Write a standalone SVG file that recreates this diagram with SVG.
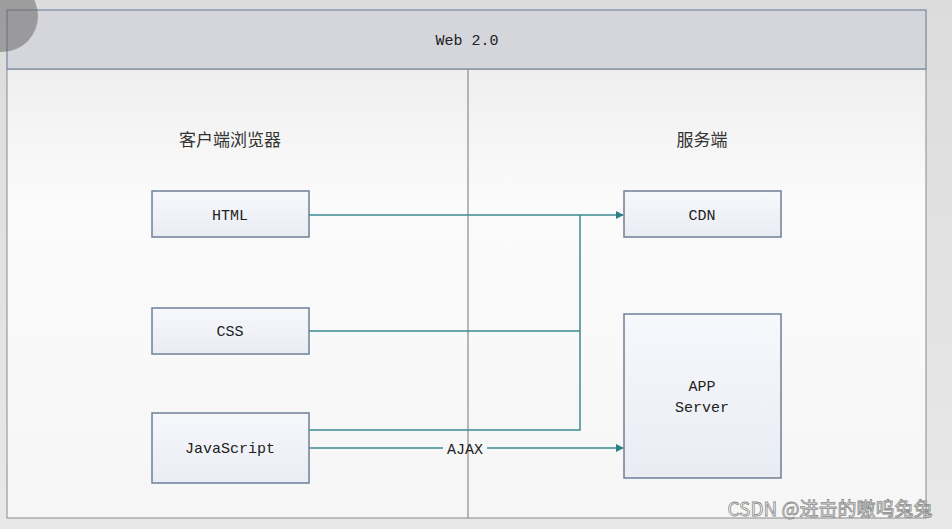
<svg xmlns="http://www.w3.org/2000/svg" width="952" height="529" viewBox="0 0 952 529">
<defs>
<linearGradient id="bg" x1="0" y1="0" x2="0" y2="1"><stop offset="0" stop-color="#dcdcdc"/><stop offset="1" stop-color="#e8e8e8"/></linearGradient>
<linearGradient id="panel" x1="0" y1="0" x2="0" y2="1"><stop offset="0" stop-color="#efefef"/><stop offset="0.3" stop-color="#fbfbfb"/><stop offset="1" stop-color="#f6f6f6"/></linearGradient>
<linearGradient id="box" x1="0" y1="0" x2="0" y2="1"><stop offset="0" stop-color="#f7f8fc"/><stop offset="1" stop-color="#e9ecf3"/></linearGradient>
<marker id="arr" viewBox="0 0 10 10" refX="9" refY="5" markerWidth="8" markerHeight="8" orient="auto" markerUnits="userSpaceOnUse"><path d="M0,0 L10,5 L0,10 z" fill="#2f7f8a"/></marker>
<style>
.box{fill:url(#box);stroke:#6f7f98;stroke-width:1.5}
.lbl{font-family:"Liberation Mono","DejaVu Sans Mono",monospace;font-size:15px;fill:#222;text-anchor:middle}
.cjk{font-family:"Noto Sans CJK SC",sans-serif;font-size:17px;fill:#333;text-anchor:middle}
.conn{stroke:#3c8a93;stroke-width:1.5;fill:none}
</style>
</defs>
<rect width="952" height="529" fill="url(#bg)"/>
<g id="frame">
<rect x="7" y="69" width="919" height="449" fill="url(#panel)" stroke="#8a8a8a" stroke-width="1"/>
<rect x="7" y="10" width="919" height="59" fill="#d4d6dc" stroke="#76879e" stroke-width="1.2"/>
<text class="lbl" x="467" y="45">Web 2.0</text>
<line x1="468" y1="69" x2="468" y2="518" stroke="#8a8a8a" stroke-width="1.2"/>
<text class="cjk" x="230" y="146">客户端浏览器</text>
<text class="cjk" x="702" y="146">服务端</text>
</g>
<g id="connectors">
<line class="conn" x1="309" y1="215" x2="623" y2="215" marker-end="url(#arr)"/>
<polyline class="conn" points="309,331 580,331"/>
<polyline class="conn" points="309,430 580,430 580,215"/>
<line class="conn" x1="309" y1="448" x2="443" y2="448"/>
<line class="conn" x1="487" y1="448" x2="623" y2="448" marker-end="url(#arr)"/>
<text class="lbl" x="465" y="454">AJAX</text>
</g>
<g id="html"><rect class="box" x="152" y="191" width="157" height="46"/><text class="lbl" x="230" y="220">HTML</text></g>
<g id="css"><rect class="box" x="152" y="308" width="157" height="46"/><text class="lbl" x="230" y="336">CSS</text></g>
<g id="js"><rect class="box" x="152" y="413" width="157" height="70"/><text class="lbl" x="230" y="453">JavaScript</text></g>
<g id="cdn"><rect class="box" x="624" y="191" width="157" height="46"/><text class="lbl" x="702" y="220">CDN</text></g>
<g id="app"><rect class="box" x="624" y="314" width="157" height="164"/><text class="lbl" x="702" y="391">APP</text><text class="lbl" x="702" y="412">Server</text></g>
<circle cx="2" cy="16" r="36" fill="#6a6a6a" opacity="0.55"/>
<text x="830" y="516" font-family="Noto Sans CJK SC,sans-serif" font-size="19" fill="#fff" stroke="#8a8a8a" stroke-width="0.8" text-anchor="middle">CSDN @进击的嗷呜兔兔</text>
</svg>
